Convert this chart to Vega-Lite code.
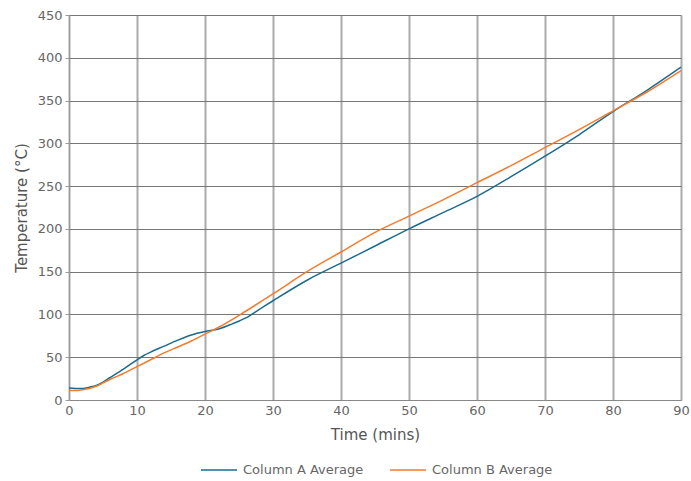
{
  "$schema": "https://vega.github.io/schema/vega-lite/v6.json",
  "width": 612,
  "height": 385,
  "autosize": {"type": "none"},
  "padding": {"left": 69, "top": 15, "right": 10, "bottom": 81},
  "config": {
    "font": "DejaVu Sans",
    "view": {"stroke": null},
    "axis": {"labelColor": "#666", "titleColor": "#555", "labelFontSize": 13, "titleFontSize": 15, "titleFontWeight": "normal", "domainColor": "#999", "tickColor": "#999", "labelFlush": false},
    "legend": {"labelColor": "#666", "labelFontSize": 13}
  },
  "data": {"values": [
    {"t": 0, "v": 14, "s": "Column A Average"},
    {"t": 1, "v": 13.5, "s": "Column A Average"},
    {"t": 2, "v": 13.5, "s": "Column A Average"},
    {"t": 3, "v": 15, "s": "Column A Average"},
    {"t": 4, "v": 17, "s": "Column A Average"},
    {"t": 5, "v": 21, "s": "Column A Average"},
    {"t": 6, "v": 26, "s": "Column A Average"},
    {"t": 8, "v": 36, "s": "Column A Average"},
    {"t": 10, "v": 47, "s": "Column A Average"},
    {"t": 11, "v": 52, "s": "Column A Average"},
    {"t": 12, "v": 56, "s": "Column A Average"},
    {"t": 14, "v": 63, "s": "Column A Average"},
    {"t": 16, "v": 70, "s": "Column A Average"},
    {"t": 18, "v": 76, "s": "Column A Average"},
    {"t": 20, "v": 80, "s": "Column A Average"},
    {"t": 22, "v": 83, "s": "Column A Average"},
    {"t": 24, "v": 89, "s": "Column A Average"},
    {"t": 26, "v": 96, "s": "Column A Average"},
    {"t": 28, "v": 106, "s": "Column A Average"},
    {"t": 30, "v": 116, "s": "Column A Average"},
    {"t": 35, "v": 140, "s": "Column A Average"},
    {"t": 40, "v": 160, "s": "Column A Average"},
    {"t": 45, "v": 180, "s": "Column A Average"},
    {"t": 50, "v": 200, "s": "Column A Average"},
    {"t": 55, "v": 219, "s": "Column A Average"},
    {"t": 60, "v": 238, "s": "Column A Average"},
    {"t": 65, "v": 261, "s": "Column A Average"},
    {"t": 70, "v": 285, "s": "Column A Average"},
    {"t": 75, "v": 310, "s": "Column A Average"},
    {"t": 80, "v": 337, "s": "Column A Average"},
    {"t": 85, "v": 362, "s": "Column A Average"},
    {"t": 90, "v": 389, "s": "Column A Average"},
    {"t": 0, "v": 11, "s": "Column B Average"},
    {"t": 1, "v": 11, "s": "Column B Average"},
    {"t": 2, "v": 12, "s": "Column B Average"},
    {"t": 3, "v": 13.5, "s": "Column B Average"},
    {"t": 4, "v": 16, "s": "Column B Average"},
    {"t": 5, "v": 20, "s": "Column B Average"},
    {"t": 6, "v": 24, "s": "Column B Average"},
    {"t": 8, "v": 31, "s": "Column B Average"},
    {"t": 10, "v": 39, "s": "Column B Average"},
    {"t": 12, "v": 47, "s": "Column B Average"},
    {"t": 14, "v": 55, "s": "Column B Average"},
    {"t": 16, "v": 62, "s": "Column B Average"},
    {"t": 18, "v": 69, "s": "Column B Average"},
    {"t": 20, "v": 77, "s": "Column B Average"},
    {"t": 22, "v": 85, "s": "Column B Average"},
    {"t": 25, "v": 99, "s": "Column B Average"},
    {"t": 30, "v": 124, "s": "Column B Average"},
    {"t": 35, "v": 150, "s": "Column B Average"},
    {"t": 40, "v": 173, "s": "Column B Average"},
    {"t": 45, "v": 196, "s": "Column B Average"},
    {"t": 50, "v": 215, "s": "Column B Average"},
    {"t": 55, "v": 234, "s": "Column B Average"},
    {"t": 60, "v": 254, "s": "Column B Average"},
    {"t": 65, "v": 274, "s": "Column B Average"},
    {"t": 70, "v": 295, "s": "Column B Average"},
    {"t": 75, "v": 316, "s": "Column B Average"},
    {"t": 80, "v": 338, "s": "Column B Average"},
    {"t": 85, "v": 360, "s": "Column B Average"},
    {"t": 90, "v": 385, "s": "Column B Average"}
  ]},
  "mark": {"type": "line", "interpolate": "monotone", "strokeWidth": 1.5},
  "encoding": {
    "x": {"field": "t", "type": "quantitative", "title": "Time (mins)",
      "scale": {"domain": [0, 90], "nice": false},
      "axis": {"values": [0,10,20,30,40,50,60,70,80,90], "grid": true, "gridColor": "#aaa", "gridWidth": 2, "ticks": false, "labelPadding": 4, "titlePadding": 10, "domainColor": "#888"}},
    "y": {"field": "v", "type": "quantitative", "title": "Temperature (°C)",
      "scale": {"domain": [0, 450], "nice": false},
      "axis": {"values": [0,50,100,150,200,250,300,350,400,450], "grid": true, "gridColor": "#777", "gridWidth": 1, "tickSize": 4, "labelPadding": 3, "titlePadding": 8}},
    "color": {"field": "s", "type": "nominal", "title": null,
      "scale": {"domain": ["Column A Average", "Column B Average"], "range": ["#1c6b8e", "#f47b2c"]},
      "legend": {"orient": "none", "legendX": 131, "legendY": 436, "direction": "horizontal", "symbolType": "stroke", "symbolSize": 1300, "symbolStrokeWidth": 1.5, "columnPadding": 22, "labelOffset": 5}}
  }
}
